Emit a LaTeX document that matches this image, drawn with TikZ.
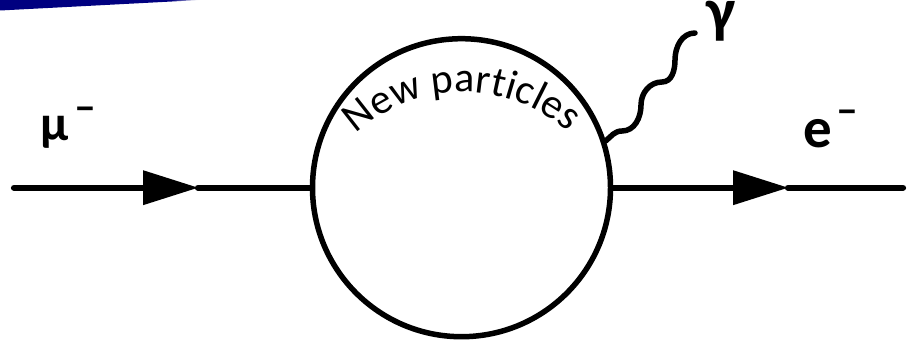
\documentclass[tikz,border=0pt]{standalone}
\usepackage{fontspec}
\setmainfont{Carlito}
\usetikzlibrary{arrows.meta,decorations.text}
\definecolor{navyc}{RGB}{0,0,128}
\begin{document}
\begin{tikzpicture}[x=1pt,y=1pt,
  fermion/.style={line width=6.2pt,line cap=round},
  blob/.style={circle,draw,line width=5.5pt,minimum size=298pt,inner sep=0pt},
  photonline/.style={line width=5.5pt,line cap=round},
  lbl/.style={font=\fontsize{57}{57}\selectfont\bfseries,inner sep=0pt,anchor=base west},
  supminus/.style={font=\fontsize{40}{40}\selectfont\bfseries,inner sep=0pt,anchor=base west},
  tip/.style={-{Triangle[length=55pt,width=35pt,line width=0pt]}}]
\useasboundingbox (0,0) rectangle (912,341);
% blue bar
\fill[navyc] (0,341) -- (172,341) -- (172,339.5) -- (0,330.5) -- cycle;
\shade[left color=navyc,right color=white] (172,341) -- (200,341) -- (172,339.5) -- cycle;
% blob
\node[blob] (blob) at (461.5,153.3) {};
\coordinate (muin) at (14,153.3);
\coordinate (tipL) at (198,153.3);
\coordinate (tipR) at (788,153.3);
\coordinate (eout) at (903,153.3);
\coordinate (pend) at (695,308);
\draw[fermion,tip] (muin) -- (tipL);
\draw[fermion] (tipL) -- (blob.west);
\draw[fermion,tip] (blob.east) -- (tipR);
\draw[fermion] (tipR) -- (eout);
% photon
\draw[photonline] (blob.18) to[out=40,in=180] (622,210) to[out=0,in=-90] (641,236)
  to[out=90,in=180] (662,259) to[out=0,in=-90] (675,281) to[out=90,in=180] (pend);
% labels
\node[lbl,font=\fontsize{50}{50}\selectfont\bfseries] (mu) at (40,201) {μ};
\node[supminus] (mum) at (mu.base east) [xshift=7pt,yshift=19pt] {−};
\node[lbl] (e) at (803,194) {e};
\node[supminus] (em) at (e.base east) [xshift=5pt,yshift=23pt] {−};
\node[lbl,font=\fontsize{62}{62}\selectfont\bfseries] (gam) at (706,309) {γ};
% curved text
\path[decorate,decoration={text along path,text align=center,
  text={|\fontsize{42}{42}\selectfont|New particles}}]
  ([shift={(176:157)}]463,92) arc[start angle=176,end angle=5,radius=157];
\end{tikzpicture}
\end{document}
